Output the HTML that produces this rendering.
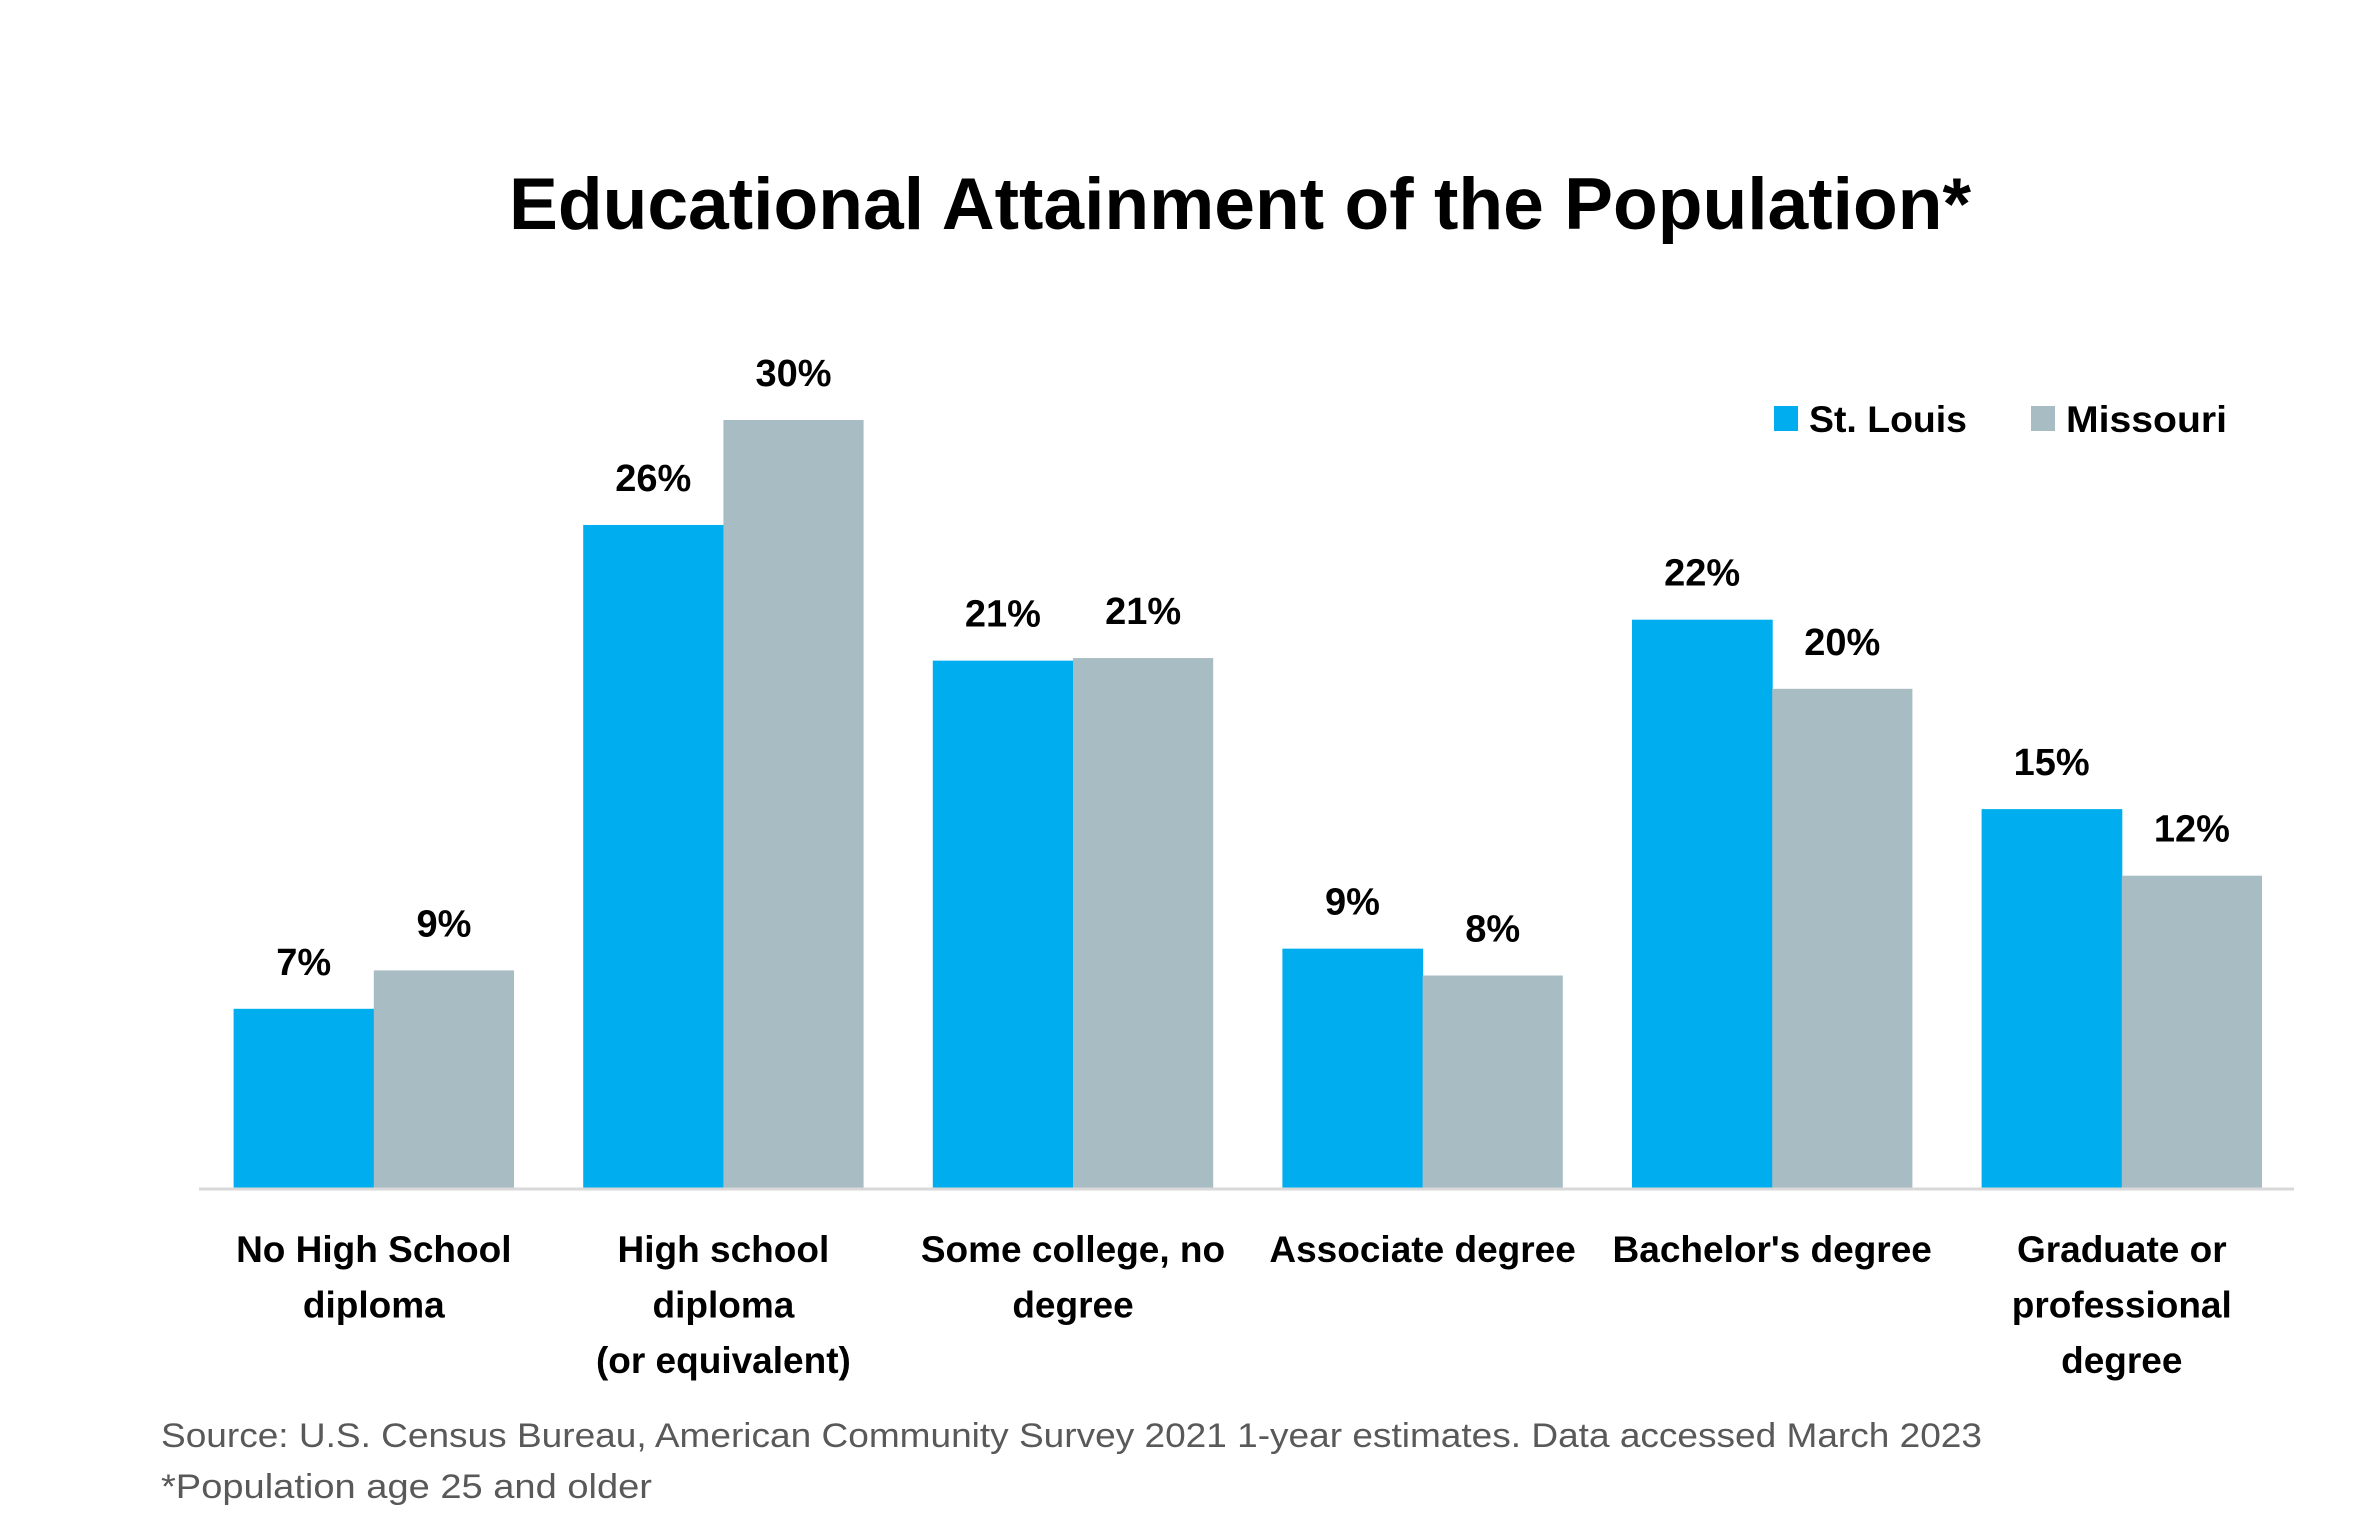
<!DOCTYPE html>
<html><head><meta charset="utf-8"><style>
html,body{margin:0;padding:0;background:#fff;}
svg{display:block;font-family:"Liberation Sans",sans-serif;}
</style></head><body>
<svg id="chart" width="2362" height="1535" viewBox="0 0 2362 1535">
<text x="1240" y="229" text-anchor="middle" font-size="73" font-weight="bold" textLength="1462" lengthAdjust="spacingAndGlyphs">Educational Attainment of the Population*</text>
<g>
<rect x="1774" y="406" width="24" height="25" fill="#00AEEF"/>
<text x="1809" y="432" font-size="37" font-weight="bold" textLength="158" lengthAdjust="spacingAndGlyphs">St. Louis</text>
<rect x="2031" y="406" width="24" height="25" fill="#A7BCC3"/>
<text x="2066" y="432" font-size="37" font-weight="bold" textLength="161" lengthAdjust="spacingAndGlyphs">Missouri</text>
</g>
<g id="bars"></g>
<line x1="199" y1="1189" x2="2294" y2="1189" stroke="#D9D9D9" stroke-width="3"/>
<g id="cats"></g>
<text x="161" y="1447" font-size="34" fill="#595959" textLength="1821" lengthAdjust="spacingAndGlyphs">Source: U.S. Census Bureau,  American Community Survey 2021 1-year estimates. Data accessed March 2023</text>
<text x="161" y="1498" font-size="34" fill="#595959" textLength="491" lengthAdjust="spacingAndGlyphs">*Population age 25 and older</text>
</svg>
<script>
const categories = [["No High School","diploma"],["High school","diploma","(or equivalent)"],["Some college, no","degree"],["Associate degree"],["Bachelor's degree"],["Graduate or","professional","degree"]];
const stLouis = [7, 25.9, 20.6, 9.35, 22.2, 14.8];
const missouri = [8.5, 30, 20.7, 8.3, 19.5, 12.2];
const stLouisLabels = ["7%","26%","21%","9%","22%","15%"];
const missouriLabels = ["9%","30%","21%","8%","20%","12%"];

const NS = "http://www.w3.org/2000/svg";
const baseY = 1188, pxPerPct = 25.6;
const x0 = 233.6, pitch = 349.6, bw = 140.2;
const y = v => baseY - v * pxPerPct;
const gx = i => x0 + i * pitch;
const bars = document.getElementById('bars');
const cats = document.getElementById('cats');
function mk(tag, attrs, parent){const e=document.createElementNS(NS,tag);for(const k in attrs)e.setAttribute(k,attrs[k]);parent.appendChild(e);return e;}
const series = [[stLouis, stLouisLabels, "#00AEEF", "st-louis"], [missouri, missouriLabels, "#A7BCC3", "missouri"]];
categories.forEach((c, i) => {
  series.forEach((s, j) => {
    const v = s[0][i];
    const bx = gx(i) + j * bw;
    const r = mk('rect', {x: bx, y: y(v), width: bw + (j===0?0.5:0), height: baseY - y(v), fill: s[2]}, bars);
    
    
    const t = mk('text', {x: bx + bw/2, y: y(v) - 34, 'text-anchor': 'middle', 'font-size': 38, 'font-weight': 'bold'}, bars);
    t.textContent = s[1][i];
    
    
  });
  c.forEach((line, k) => {
    const t = mk('text', {x: gx(i) + bw, y: 1262 + k * 55.4, 'text-anchor': 'middle', 'font-size': 37, 'font-weight': 'bold'}, cats);
    t.textContent = line;
    
    
  });
});
</script>
</body></html>
